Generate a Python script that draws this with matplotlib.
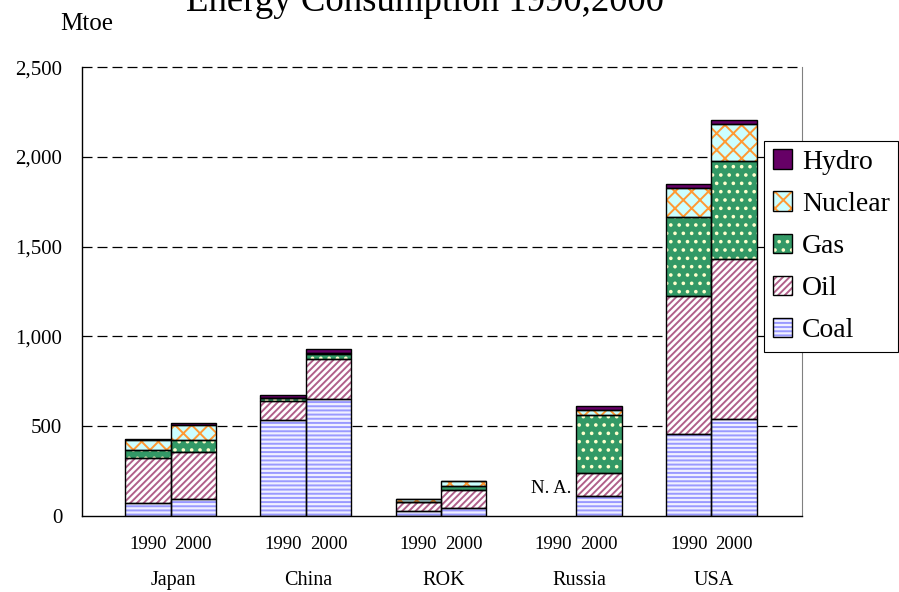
import numpy as np
import matplotlib
matplotlib.use("Agg")
import matplotlib.pyplot as plt
import matplotlib.transforms as mtransforms
from matplotlib.patches import Patch
from matplotlib.ticker import FuncFormatter

plt.rcParams['font.family'] = ['Liberation Serif', 'DejaVu Serif']
plt.rcParams['hatch.linewidth'] = 1.4

countries = ["Japan", "China", "ROK", "Russia", "USA"]
years = ["1990", "2000"]
nan = np.nan

# Mtoe, Russia 1990 not available
coal_1990 = [71, 532, 24, nan, 458]
coal_2000 = [93, 651, 43, 112, 540]
oil_1990 = [251, 110, 50, nan, 766]
oil_2000 = [262, 223, 102, 126, 892]
gas_1990 = [46, 13, 3, nan, 443]
gas_2000 = [65, 30, 19, 326, 543]
nuclear_1990 = [56, 0, 14, nan, 162]
nuclear_2000 = [84, 4, 31, 28, 207]
hydro_1990 = [6, 18, 2, nan, 18]
hydro_2000 = [13, 22, 1, 22, 22]

# name, values per year, face colour, hatch colour, hatch (bottom to top)
fuels = [
    ("Coal", [coal_1990, coal_2000], "#f0f0ff", "#9999ff", "----"),
    ("Oil", [oil_1990, oil_2000], "white", "#b0608a", "/////"),
    ("Gas", [gas_1990, gas_2000], "#339966", "#ffffcc", ".."),
    ("Nuclear", [nuclear_1990, nuclear_2000], "#ccffff", "#ff9933", "xx"),
    ("Hydro", [hydro_1990, hydro_2000], "#660066", "#660066", None),
]

fig = plt.figure(figsize=(8.99, 5.92), dpi=100)
ax = fig.add_axes([81.7 / 899, 1 - 515.7 / 592, (802 - 81.7) / 899, (515.7 - 67.3) / 592])

x = np.arange(len(countries))
w = 0.336
offsets = [-w / 2, w / 2]

for yi, off in enumerate(offsets):
    bottom = np.zeros(len(countries))
    for name, data, face, hcol, hatch in fuels:
        vals = np.array(data[yi], dtype=float)
        m = ~np.isnan(vals)
        ax.bar(x[m] + off, vals[m], w, bottom=bottom[m], color=face,
               edgecolor=hcol, hatch=hatch, linewidth=0, zorder=2)
        ax.bar(x[m] + off, vals[m], w, bottom=bottom[m], fill=False,
               edgecolor="black", linewidth=1, zorder=3)
        bottom[m] += vals[m]

for v in [500, 1000, 1500, 2000, 2500]:
    ax.axhline(v, color="black", lw=0.9, ls=(0, (8, 4)), zorder=1, clip_on=False)

ax.set_xlim(-0.657, 4.67)
ax.set_ylim(0, 2500)
ax.set_yticks([0, 500, 1000, 1500, 2000, 2500])
ax.yaxis.set_major_formatter(FuncFormatter(lambda v, p: f"{v:,.0f}"))
ax.tick_params(axis="y", length=0, pad=14, labelsize=15)
ax.set_xticks([])

ax.spines["top"].set_visible(False)
ax.spines["right"].set_color("#808080")
ax.spines["left"].set_linewidth(1)
ax.spines["bottom"].set_linewidth(1)

trans = mtransforms.blended_transform_factory(ax.transData, ax.transAxes)
for i, c in enumerate(countries):
    for yi, off in enumerate(offsets):
        ax.text(x[i] + off, -0.0736, years[yi], transform=trans,
                ha="center", va="baseline", fontsize=13.5)
    ax.text(x[i] + 0.02, -0.154, c, transform=trans, ha="center", va="baseline", fontsize=14.5)

ax.text(2.815, 127, "N. A.", ha="center", va="baseline", fontsize=13.5)

fig.text(425 / 899, 1 - 11 / 592, "Energy Consumption 1990,2000",
         ha="center", va="baseline", fontsize=26.5)
fig.text(60 / 899, 1 - 30 / 592, "Mtoe", ha="left", va="baseline", fontsize=18)

handles = []
labels = []
for name, data, face, hcol, hatch in reversed(fuels):
    handles.append((Patch(facecolor=face, edgecolor=hcol, hatch=hatch, linewidth=0),
                    Patch(fill=False, edgecolor="black", linewidth=1)))
    labels.append(name)
leg = fig.legend(handles, labels, loc="upper right", bbox_to_anchor=(898 / 899, 1 - 141 / 592),
                 fontsize=20, frameon=True, fancybox=False, edgecolor="black", framealpha=1,
                 borderaxespad=0, borderpad=0.3, handlelength=0.7, handleheight=0.7,
                 handletextpad=0.35, labelspacing=0.6)
leg.get_frame().set_linewidth(0.8)

fig.savefig("out.png", dpi=100)
